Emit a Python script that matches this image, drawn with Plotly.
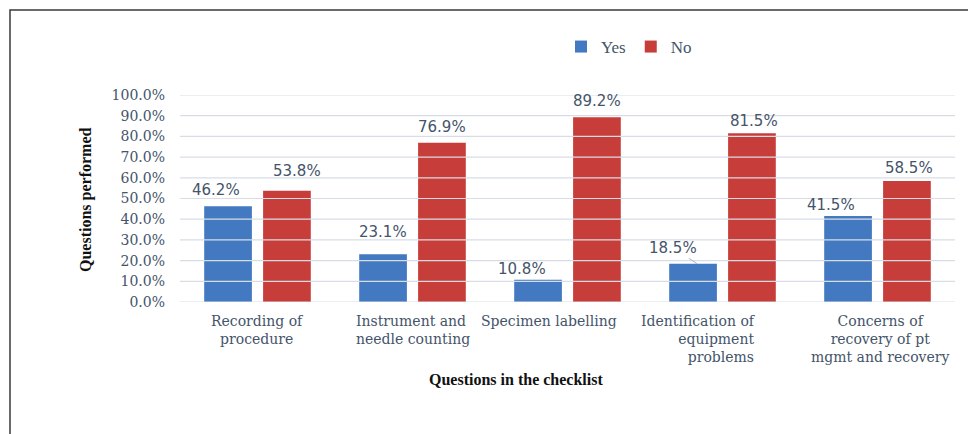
import plotly.graph_objects as go

categories = ["Recording of procedure", "Instrument and needle counting",
              "Specimen labelling", "Identification of equipment problems",
              "Concerns of recovery of pt mgmt and recovery"]
cat_labels = ["Recording of<br>procedure", "Instrument and<br>needle counting",
              "Specimen labelling", "Identification of<br>equipment<br>problems",
              "Concerns of<br>recovery of pt<br>mgmt and recovery"]
yes_vals = [0.462, 0.231, 0.108, 0.185, 0.415]
no_vals = [0.538, 0.769, 0.892, 0.815, 0.585]
y_ticks = [0, 0.1, 0.2, 0.3, 0.4, 0.5, 0.6, 0.7, 0.8, 0.9, 1.0]

# style: label placement tweaks (pixels)
cat_align = ["center", "left", "center", "right", "center"]
cat_xshift = [0, 0, -19, -24, 2]
yes_dx = [-12, 0, -16, -20, -17]
yes_dy = [16, 22, 11, 16, 11]
no_dx = [10, 0, 0, 2, 2]
no_dy = [20, 16, 16, 12, 13]

BLUE = "#4379C1"
RED = "#C73D39"
TXT = "#44546A"
GRID = "#D8DDE5"
SERIF = "DejaVu Serif"
TSERIF = "Liberation Serif"
SANS = "DejaVu Sans"

OFF = 8  # page body margin
W, H = 976 - OFF, 434 - OFF
# plot area in screen pixels
PX0, PX1, PY0, PY1 = 180, 955, 95, 302
L, R = PX0 - OFF, W - (PX1 - OFF)
T, B = PY0 - OFF, H - (PY1 - OFF)
pw, ph = PX1 - PX0, PY1 - PY0


def fx(px):
    return (px - PX0) / pw


def fy(py):
    return (PY1 - py) / ph


slot = pw / len(categories) * (1 - 0.24) / 2

fig = go.Figure()
fig.add_trace(go.Bar(name="Yes", x=categories, y=yes_vals, marker_color=BLUE,
                     marker_line_width=0))
fig.add_trace(go.Bar(name="No", x=categories, y=no_vals, marker_color=RED,
                     marker_line_width=0))

ann = []
for i, c in enumerate(categories):
    ann.append(dict(x=c, xref="x", y=0, yref="y", yshift=-9, yanchor="top",
                    xanchor="center", xshift=cat_xshift[i], align=cat_align[i],
                    text=cat_labels[i], showarrow=False,
                    font=dict(family=SERIF, size=14, color=TXT)))
    if i == 3:
        ann.append(dict(x=c, xref="x", y=yes_vals[i], yref="y",
                        xshift=-slot / 2 + 4, text=f"{yes_vals[i]*100:.1f}%",
                        showarrow=True, arrowhead=0, arrowwidth=0.8,
                        arrowcolor="#8FA3BF", ax=yes_dx[i] - 4, ay=-yes_dy[i],
                        font=dict(family=SANS, size=15, color=TXT)))
    else:
        ann.append(dict(x=c, xref="x", y=yes_vals[i], yref="y",
                        xshift=-slot / 2 + yes_dx[i], yshift=yes_dy[i],
                        yanchor="middle", xanchor="center",
                        text=f"{yes_vals[i]*100:.1f}%", showarrow=False,
                        font=dict(family=SANS, size=15, color=TXT)))
    ann.append(dict(x=c, xref="x", y=no_vals[i], yref="y",
                    xshift=slot / 2 + no_dx[i], yshift=no_dy[i],
                    yanchor="middle", xanchor="center",
                    text=f"{no_vals[i]*100:.1f}%", showarrow=False,
                    font=dict(family=SANS, size=15, color=TXT)))

ann.append(dict(x=fx(86), xref="paper", y=fy(200), yref="paper",
                xanchor="center", yanchor="middle",
                text="<b>Questions performed</b>", textangle=-90, showarrow=False,
                font=dict(family=TSERIF, size=16, color="#111111")))
ann.append(dict(x=fx(516), xref="paper", y=fy(379), yref="paper",
                xanchor="center", yanchor="middle",
                text="<b>Questions in the checklist</b>", showarrow=False,
                font=dict(family=TSERIF, size=16, color="#111111")))

shapes = [dict(type="rect", xref="paper", yref="paper",
               x0=fx(10), x1=fx(970), y0=fy(445), y1=fy(10),
               line=dict(color="#3A3A3A", width=1.5), layer="below")]
for t in y_ticks:
    shapes.append(dict(type="line", xref="paper", yref="y", x0=0, x1=1,
                       y0=t, y1=t, line=dict(color=GRID, width=1.2),
                       layer="above"))

fig.update_layout(
    width=W, height=H,
    margin=dict(l=L, r=R, t=T, b=B),
    paper_bgcolor="white", plot_bgcolor="white",
    barmode="group", bargap=0.24, bargroupgap=0.19,
    showlegend=True,
    legend=dict(orientation="h", x=fx(561), xanchor="left",
                y=fy(47), yanchor="middle",
                font=dict(family=TSERIF, size=17, color=TXT),
                itemwidth=30, tracegroupgap=0, bgcolor="rgba(0,0,0,0)"),
    annotations=ann,
    shapes=shapes,
    xaxis=dict(showticklabels=False, showgrid=False, showline=False, ticks="",
               range=[-0.5, 4.5]),
    yaxis=dict(range=[0, 1.0], tickvals=y_ticks, tickformat=".1%",
               showgrid=False, zeroline=False, ticks="",
               ticklabelstandoff=14,
               tickfont=dict(family=SERIF, size=14, color=TXT)),
)

fig.write_html("out.html")
